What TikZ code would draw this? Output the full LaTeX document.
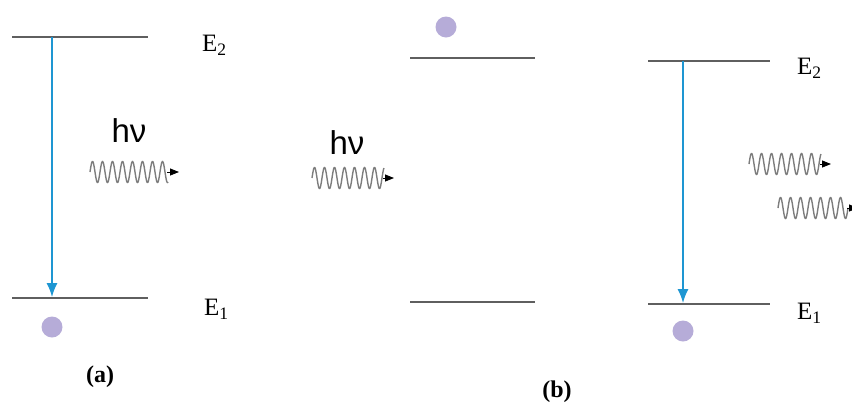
\documentclass[tikz,border=0pt]{standalone}
\usepackage{fontspec}
\setmainfont{Liberation Serif}
\newfontfamily\hvfont{Liberation Sans}
\usetikzlibrary{arrows.meta}
\definecolor{lvl}{RGB}{95,95,95}
\definecolor{trans}{RGB}{30,150,210}
\definecolor{atom}{RGB}{182,172,216}
\definecolor{wavec}{RGB}{125,125,125}
\tikzset{
  level/.style={draw=lvl, line width=1.8pt},
  transarrow/.style={draw=trans, line width=1.4pt, -{Latex[length=14pt,width=11pt]}},
  atomdot/.style={circle, fill=atom, inner sep=0pt, minimum size=21pt},
  elabel/.style={font=\fontsize{25}{27}\selectfont, anchor=west, inner sep=0pt},
  hvlabel/.style={font=\hvfont\fontsize{33}{36}\selectfont, inner sep=0pt},
  caplabel/.style={font=\bfseries\fontsize{24}{26}\selectfont, inner sep=0pt},
  wave/.style={draw=wavec, line width=1.4pt},
  wavetip/.style={draw=black, -{Triangle[length=9pt,width=7pt]}, line width=0.8pt}
}
\begin{document}
\begin{tikzpicture}[x=1pt,y=-1pt]
\useasboundingbox (0,0) rectangle (852,408);
% (a)
\coordinate (a2l) at (12,37); \coordinate (a2r) at (148,37);
\coordinate (a1l) at (12,298); \coordinate (a1r) at (148,298);
\draw[level] (a2l) -- (a2r);
\draw[level] (a1l) -- (a1r);
\coordinate (aTop) at (52,37); \coordinate (aBot) at (52,297);
\draw[transarrow] (aTop) -- (aBot);
\node[atomdot] (aAtom) at (52,327) {};
\node[elabel] (aE2) at (202,45) {E\textsubscript{2}};
\node[elabel] (aE1) at (204,309) {E\textsubscript{1}};
\node[hvlabel] (ahv) at (129,131) {hν};
\draw[wave, domain=0:78, samples=300, smooth] plot ({90+\x},{172-10.5*sin(36*\x)});
\coordinate (aw1) at (167,172); \coordinate (aw2) at (179,172);
\draw[wavetip] (aw1) -- (aw2);
\node[caplabel] (acap) at (100,377) {(a)};
% (b) middle
\node[atomdot] (bAtom) at (446,27) {};
\coordinate (m2l) at (410,58); \coordinate (m2r) at (535,58);
\coordinate (m1l) at (410,302); \coordinate (m1r) at (535,302);
\draw[level] (m2l) -- (m2r);
\draw[level] (m1l) -- (m1r);
\node[hvlabel] (bhv) at (347,143) {hν};
\draw[wave, domain=0:72, samples=300, smooth] plot ({312+\x},{178-10.5*sin(36*\x)});
\coordinate (bw1) at (383,178); \coordinate (bw2) at (394,178);
\draw[wavetip] (bw1) -- (bw2);
% (b) right
\coordinate (r2l) at (648,61); \coordinate (r2r) at (770,61);
\coordinate (r1l) at (648,304); \coordinate (r1r) at (770,304);
\draw[level] (r2l) -- (r2r);
\draw[level] (r1l) -- (r1r);
\coordinate (rTop) at (683,61); \coordinate (rBot) at (683,303);
\draw[transarrow] (rTop) -- (rBot);
\node[atomdot] (rAtom) at (683,331) {};
\node[elabel] (rE2) at (797,68) {E\textsubscript{2}};
\node[elabel] (rE1) at (797,313) {E\textsubscript{1}};
\draw[wave, domain=0:72, samples=300, smooth] plot ({749+\x},{164-10.5*sin(36*\x)});
\coordinate (rw1) at (820,164); \coordinate (rw2) at (831,164);
\draw[wavetip] (rw1) -- (rw2);
\draw[wave, domain=0:70, samples=300, smooth] plot ({778+\x},{208-10.5*sin(36*\x)});
\coordinate (rw3) at (847,208); \coordinate (rw4) at (858,208);
\draw[wavetip] (rw3) -- (rw4);
\node[caplabel] (bcap) at (557,392) {(b)};
\end{tikzpicture}
\end{document}
